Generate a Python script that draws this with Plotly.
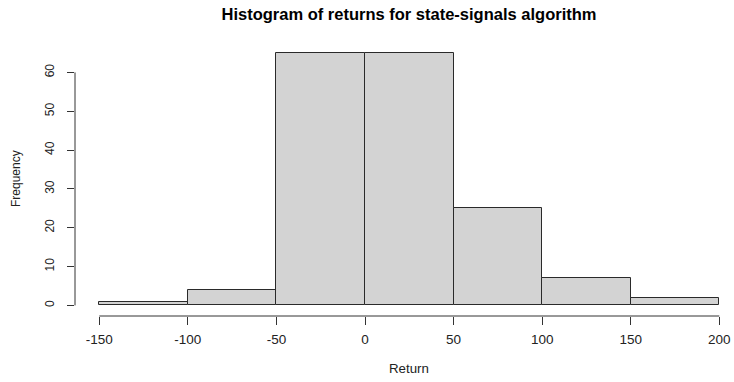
import plotly.graph_objects as go

# Histogram bins (left edges of each 50-wide bin) and counts
bin_edges = [-150, -100, -50, 0, 50, 100, 150, 200]
counts = [1, 4, 65, 65, 25, 7, 2]
y_ticks = [0, 10, 20, 30, 40, 50, 60]

centers = [(a + b) / 2 for a, b in zip(bin_edges[:-1], bin_edges[1:])]
widths = [b - a for a, b in zip(bin_edges[:-1], bin_edges[1:])]

FONT = "Liberation Sans, Arial, sans-serif"
AXIS_COLOR = "#333333"
TEXT_COLOR = "#222222"

W, H = 734, 382
L, R, T, B = 75, 0, 43, 66

fig = go.Figure(
    go.Bar(
        x=centers,
        y=counts,
        width=widths,
        marker=dict(color="#D3D3D3", line=dict(color="#2a2a2a", width=1)),
        showlegend=False,
    )
)

# Axis lines span only the tick range, like base-R graphics
shapes = [
    dict(type="line", xref="x", yref="paper", x0=bin_edges[0], x1=bin_edges[-1],
         y0=0, y1=0, line=dict(color=AXIS_COLOR, width=1)),
    dict(type="line", xref="paper", yref="y", x0=0, x1=0,
         y0=y_ticks[0], y1=y_ticks[-1], line=dict(color=AXIS_COLOR, width=1)),
]

annotations = [
    dict(text="Return", xref="paper", yref="paper", x=(409 - L) / (W - L - R),
         y=-(368 - (H - B)) / (H - T - B), xanchor="center", yanchor="middle",
         showarrow=False, font=dict(family=FONT, size=13.3, color=TEXT_COLOR)),
    dict(text="Frequency", xref="paper", yref="paper", x=-(L - 16) / (W - L - R),
         y=0.5 + ((H - B + T) / 2 - 179) / (H - T - B), xanchor="center", yanchor="middle",
         textangle=-90, showarrow=False,
         font=dict(family=FONT, size=12, color=TEXT_COLOR)),
]

fig.update_layout(
    width=W,
    height=H,
    margin=dict(l=L, r=R, t=T, b=B, pad=0),
    plot_bgcolor="white",
    paper_bgcolor="white",
    bargap=0,
    title=dict(
        text="<b>Histogram of returns for state-signals algorithm</b>",
        xref="container", yref="container",
        x=409 / W, y=1 - 14 / H, xanchor="center", yanchor="middle",
        font=dict(family=FONT, size=16.5, color="#000000"),
    ),
    xaxis=dict(
        range=[-163.7, 208.3],
        tickvals=bin_edges,
        ticktext=[str(v) for v in bin_edges],
        ticks="outside", ticklen=8, tickwidth=1, tickcolor=AXIS_COLOR,
        showgrid=False, zeroline=False, showline=False,
        tickfont=dict(family=FONT, size=13.5, color=TEXT_COLOR),
        ticklabelstandoff=3,
    ),
    yaxis=dict(
        range=[-2.73, 67.58],
        tickvals=y_ticks,
        ticktext=[str(v) for v in y_ticks],
        ticks="outside", ticklen=7, tickwidth=1, tickcolor=AXIS_COLOR,
        showgrid=False, zeroline=False, showline=False,
        tickangle=-90,
        tickfont=dict(family=FONT, size=12, color=TEXT_COLOR),
        ticklabelstandoff=8,
    ),
    shapes=shapes,
    annotations=annotations,
)

fig.write_html("out.html")
